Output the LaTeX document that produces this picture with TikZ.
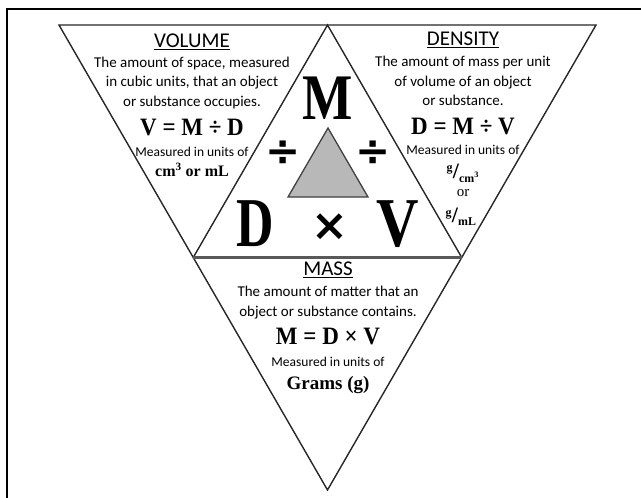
\documentclass[tikz,border=0pt]{standalone}
\usepackage{fontspec}
\setmainfont{Liberation Serif}
\setsansfont{Carlito}
\newfontfamily\symfam{DejaVu Sans}
\tikzset{
  tri/.style={line width=1.4pt, draw=black!85},
  midline/.style={line width=3pt, draw=black!65},
  head/.style={font=\sffamily\fontsize{21}{21}\selectfont, inner sep=0pt},
  desc/.style={font=\sffamily\fontsize{15}{19.5}\selectfont, align=center, inner sep=0pt},
  eqn/.style={font=\bfseries\fontsize{25}{25}\selectfont, inner sep=0pt},
  unitsline/.style={font=\sffamily\fontsize{13.5}{13.5}\selectfont, inner sep=0pt},
  unitval/.style={font=\bfseries\fontsize{16}{16}\selectfont, inner sep=0pt},
  fracunit/.style={font=\bfseries\fontsize{17}{17}\selectfont, inner sep=0pt},
  big/.style={font=\bfseries\fontsize{70}{70}\selectfont, inner sep=0pt},
  bigop/.style={font=\symfam\bfseries\fontsize{42}{42}\selectfont, inner sep=0pt},
}
\newcommand{\bigslash}{{\fontsize{22}{22}\selectfont/}}
\begin{document}
\begin{tikzpicture}[x=1pt,y=-1pt]
\useasboundingbox (0,0) rectangle (641,498);
\draw[line width=2pt] (7,520) -- (7,9) -- (660,9);
% geometry
\coordinate (TL) at (59,25);
\coordinate (TR) at (596,25);
\coordinate (B) at (327.5,490);
\coordinate (T) at (327.5,25);
\coordinate (ML) at (193.25,257.5);
\coordinate (MR) at (461.75,257.5);
\coordinate (gA) at (328,128);
\coordinate (gB) at (288,197);
\coordinate (gC) at (368,197);
\draw[tri] (TL) -- (TR) -- (B) -- cycle;
\draw[tri] (ML) -- (T) -- (MR);
\draw[midline] (ML) -- (MR);
\draw[fill=black!28, draw=black!75, line width=1.3pt] (gA) -- (gB) -- (gC) -- cycle;
% centre triangle letters
\node[big, font=\bfseries\fontsize{65}{65}\selectfont] (bigM) at (328,98) {\scalebox{0.82}[1]{M}};
\node[bigop] (divL) at (283,153) {÷};
\node[bigop] (divR) at (373,153) {÷};
\node[big] (bigD) at (255,224) {\scalebox{0.74}[1]{D}};
\node[bigop, font=\symfam\bfseries\fontsize{44}{44}\selectfont] (times) at (330,227) {×};
\node[big] (bigV) at (398,224) {\scalebox{0.84}[1]{V}};
% volume
\node[head] (volh) at (192,42) {\underline{VOLUME}};
\node[desc] (vold) at (192,82.5) {The amount of space, measured\\in cubic units, that an object\\or substance occupies.};
\node[eqn] (vole) at (192,128) {\scalebox{0.92}[1]{V = M ÷ D}};
\node[unitsline] (volm) at (192,152) {Measured in units of};
\node[unitval] (volu) at (192,170) {cm\textsuperscript{3} or mL};
% density
\node[head] (denh) at (463,40) {\underline{DENSITY}};
\node[desc] (dend) at (463,81) {The amount of mass per unit\\of volume of an object\\or substance.};
\node[eqn] (dene) at (463,127) {\scalebox{0.92}[1]{D = M ÷ V}};
\node[unitsline] (denm) at (463,150) {Measured in units of};
\node[fracunit] (denu1) at (463,173) {\textsuperscript{g}\bigslash\textsubscript{cm\textsuperscript{3}}};
\node[font=\fontsize{15}{15}\selectfont, inner sep=0pt] (denor) at (463,193) {or};
\node[fracunit] (denu2) at (461,217) {\textsuperscript{g}\bigslash\textsubscript{mL}};
% mass
\node[head] (masH) at (328,270) {\underline{MASS}};
\node[desc] (masd) at (328,302.5) {The amount of matter that an\\object or substance contains.};
\node[eqn] (mase) at (328,337) {\scalebox{0.92}[1]{M = D × V}};
\node[unitsline] (masm) at (328,362) {Measured in units of};
\node[unitval, font=\bfseries\fontsize{19}{19}\selectfont] (masu) at (328,385) {Grams (g)};
\end{tikzpicture}
\end{document}
